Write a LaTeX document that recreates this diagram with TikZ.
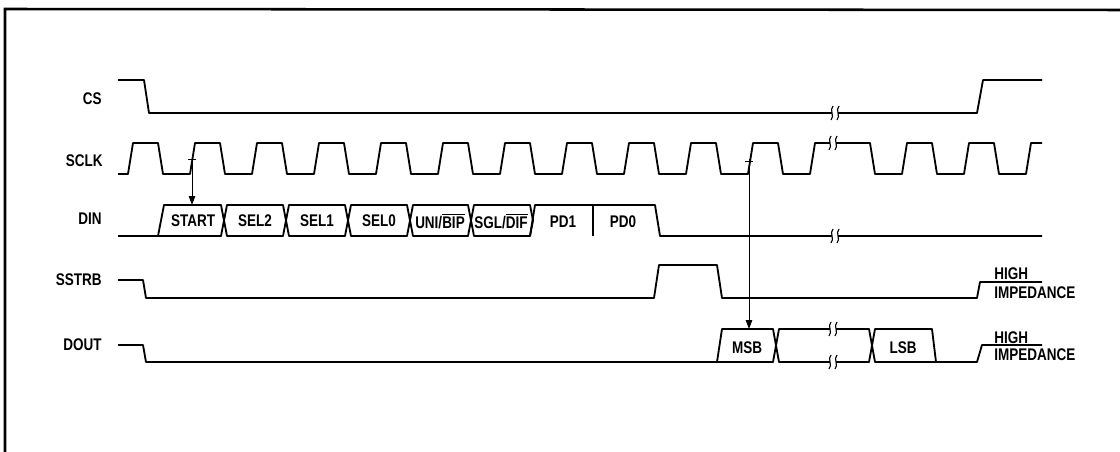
\documentclass[tikz,border=0pt]{standalone}
\usepackage{fontspec}
\newfontfamily\tdfont{Liberation Sans}[FakeStretch=0.8]
\usetikzlibrary{arrows.meta}
\newcommand{\ovl}[1]{$\overline{\hbox{#1}}$}

\begin{document}
\begin{tikzpicture}[x=0.025cm, y=-0.025cm,
  wave/.style={line width=1.3pt, line join=round},
  lbl/.style={anchor=east, inner sep=0pt, font=\tdfont\bfseries\fontsize{12}{13}\selectfont},
  txt/.style={inner sep=0pt, font=\tdfont\bfseries\fontsize{12}{13}\selectfont},
  arr/.style={-{Triangle[length=2.2mm, width=1.6mm]}, line width=0.7pt},
  brk/.pic={
    \fill[white] (-3,-5) rectangle (3,5);
    \draw[line width=0.8pt] (-2,-7) .. controls (-6,-3) and (0,3) .. (-4,7);
    \draw[line width=0.8pt] (4,-7) .. controls (0,-3) and (6,3) .. (2,7);
  }
]
\useasboundingbox (0,0) rectangle (1120,452);
\draw[line width=1.8pt] (5,452) -- (5,9) -- (1120,10);

% signal names
\node[lbl] (cs)    at (102,99)  {CS};
\node[lbl] (sclk)  at (103,161) {SCLK};
\node[lbl] (din)   at (102,219) {DIN};
\node[lbl] (sstrb) at (102,280) {SSTRB};
\node[lbl] (dout)  at (102,345) {DOUT};

% CS
\draw[wave] (118,80) -- (144,80) -- (149,113) -- (977,113) -- (983,80) -- (1042,80);
\pic at (835,113) {brk};

% SCLK
\draw[wave] (118,174)
  foreach \r in {128,190,...,748} { -- (\r,174) -- (\r+5,143) -- (\r+30,143) -- (\r+35,174) }
  -- (810,174) -- (815,143) -- (870,143) -- (875,174)
  foreach \r in {902,964} { -- (\r,174) -- (\r+5,143) -- (\r+30,143) -- (\r+35,174) }
  -- (1026,174) -- (1031,143) -- (1042,143);
\pic at (833,143) {brk};

% DIN
\draw[wave] (118,236) -- (158,236) -- (164,205) -- (221,205) -- (224,220.5) -- (221,236) -- (158,236);
\foreach \a/\b in {224/286, 286/348, 348/410, 410/471, 471/533}
  \draw[wave] (\a,220.5) -- (\a+3,205) -- (\b-3,205) -- (\b,220.5) -- (\b-3,236) -- (\a+3,236) -- cycle;
\draw[wave] (530,236) -- (535,205) -- (655,205) -- (660,236) -- (1042,236);
\draw[wave] (593,205) -- (593,236);
\pic at (835,236) {brk};
\node[txt] (start) at (193,221) {START};
\node[txt] (sel2)  at (255,221) {SEL2};
\node[txt] (sel1)  at (317,221) {SEL1};
\node[txt] (sel0)  at (379,221) {SEL0};
\node[txt] (unib)  at (440,221) {UNI/\ovl{BIP}};
\node[txt] (sgld)  at (501,221) {SGL/\ovl{DIF}};
\node[txt] (pd1)   at (563,222) {PD1};
\node[txt] (pd0)   at (623,222) {PD0};

% SSTRB
\draw[wave] (118,280) -- (143,280) -- (146,298) -- (654,298) -- (659,265) -- (717,265)
  -- (722,298) -- (977,298) -- (980,282) -- (1042,282);
\node[txt, anchor=west] (hi1) at (994,274) {HIGH};
\node[txt, anchor=west] (hz1) at (994,292.5) {IMPEDANCE};

% DOUT
\draw[wave] (118,345) -- (143,345) -- (146,362) -- (717,362);
\draw[wave] (717,362) -- (722,329) -- (773,329) -- (776,345.5) -- (773,362) -- cycle;
\draw[wave] (776,345.5) -- (779,329) -- (869,329) -- (872,345.5) -- (869,362) -- (779,362) -- cycle;
\draw[wave] (872,345.5) -- (875,329) -- (932,329) -- (936,362) -- (875,362) -- cycle;
\draw[wave] (936,362) -- (977,362) -- (982,345) -- (1042,345);
\pic at (833,329) {brk};
\pic at (833,362) {brk};
\node[txt] (msb) at (747,348) {MSB};
\node[txt] (lsb) at (903,348) {LSB};
\node[txt, anchor=west] (hi2) at (994,337.5) {HIGH};
\node[txt, anchor=west] (hz2) at (994,355) {IMPEDANCE};

% clock edges to data
\coordinate (edgeA) at (192,157);
\coordinate (startTop) at (192,205);
\coordinate (edgeB) at (749,159);
\coordinate (msbTop) at (749,329);
\draw[line width=0.7pt] (188,159) -- (196,159) (745,161) -- (753,161);
\draw[arr] (edgeA) -- (startTop);
\draw[arr] (edgeB) -- (msbTop);
\end{tikzpicture}
\end{document}
